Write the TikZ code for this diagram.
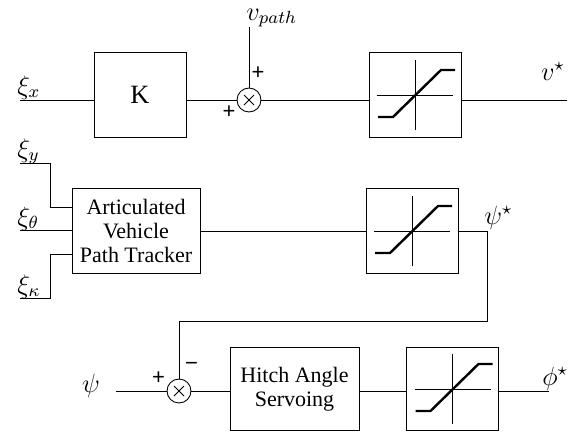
\documentclass[tikz,border=0pt]{standalone}
\usepackage{amsmath,amssymb}
\usepackage{fontspec}
\setmainfont{Liberation Serif}
\newfontfamily\signfont{Liberation Sans}
\usepackage{tikz}

\begin{document}
\begin{tikzpicture}[x=0.4545pt,y=0.4545pt,
    block/.style={draw,inner sep=0pt,minimum width=41.8pt,minimum height=38.6pt,
      align=center,font=\fontsize{10}{11}\selectfont},
    summer/.style={draw,circle,inner sep=0pt,minimum size=10.9pt},
    sig/.style={font=\large,inner sep=0pt},
    sgn/.style={font=\signfont,inner sep=0pt},
    ramp/.style={line width=1.1pt}]
  \useasboundingbox (0,0) rectangle (578,431);

  % speed channel
  \coordinate (xin) at (20,331);
  \node[sig,anchor=base west] (xix) at (17,337) {$\xi_x$};
  \node[block] (K) at (140,336) {\large K};
  \node[summer] (sum1) at (249,331) {};
  \coordinate (vin) at (249,404);
  \node[sig,anchor=base west] (vpath) at (246,411) {$v_{path}$};
  \node[block] (sat1) at (415,336) {};
  \coordinate (vout) at (567,331);
  \node[sig,anchor=base] (vstar) at (553,351) {$v^\star$};
  \node[sgn] (p1) at (258,358) {+};
  \node[sgn] (p2) at (229,319) {+};
  \draw (xin) -- (xin -| K.west);
  \draw (K.east |- sum1) -- (sum1);
  \draw (vin) -- (sum1);
  \draw (sum1) -- (sum1 -| sat1.west);
  \draw (sat1.east |- vout) -- (vout);

  % articulation channel
  \node[sig,anchor=base west] (xiy) at (17,274) {$\xi_y$};
  \node[sig,anchor=base west] (xith) at (17,206) {$\xi_\theta$};
  \node[sig,anchor=base west] (xika) at (17,138) {$\xi_\kappa$};
  \coordinate (yin) at (20,268);
  \coordinate (thin) at (20,201);
  \coordinate (kain) at (20,133);
  \node[block,minimum width=58.2pt] (apt) at (136,200) {Articulated\\Vehicle\\Path Tracker};
  \node[block] (sat2) at (412,200) {};
  \node[sig,anchor=base west] (psistar) at (484,207) {$\psi^\star$};
  \coordinate (fb) at (487,110);
  \draw (yin) -- ++(30,0) |- ([yshift=10.9pt]apt.west);
  \draw (thin) -- (thin -| apt.west);
  \draw (kain) -- ++(30,0) |- ([yshift=-10.5pt]apt.west);
  \draw (apt) -- (sat2);

  % hitch angle loop
  \node[sig,anchor=base] (psi) at (91,39) {$\psi$};
  \coordinate (psiin) at (116,40);
  \node[summer] (sum2) at (179,40) {};
  \node[block,minimum width=58.6pt,minimum height=37.7pt] (has) at (294.5,42) {Hitch Angle\\Servoing};
  \node[block,minimum height=37.7pt] (sat3) at (452.5,42) {};
  \coordinate (phiout) at (549,40);
  \node[sig,anchor=base west] (phistar) at (542,46) {$\phi^\star$};
  \node[sgn] (p3) at (158.5,53) {+};
  \node[sgn] (m1) at (191.5,65) {−};
  \draw (psiin) -- (sum2);
  \draw (sum2) -- (sum2 -| has.west);
  \draw (has.east |- sum2) -- (sum2 -| sat3.west);
  \draw (sat3.east |- phiout) -- (phiout);
  \draw (sat2.east) -| (fb) -| (sum2.north);

  % saturation symbols
  \foreach \s in {sat1,sat2,sat3}{
    \begin{scope}[shift={(\s.center)}]
      \draw (-38,0) -- (38,0) (0,-35) -- (0,35);
      \draw[ramp] (-37,-22) -- (-22,-22) -- (26,25) -- (40,25);
    \end{scope}
  }
  % multiplier crosses
  \foreach \s in {sum1,sum2}
    \draw[shift={(\s.center)}] (-5,-5) -- (5,5) (-5,5) -- (5,-5);
\end{tikzpicture}
\end{document}
